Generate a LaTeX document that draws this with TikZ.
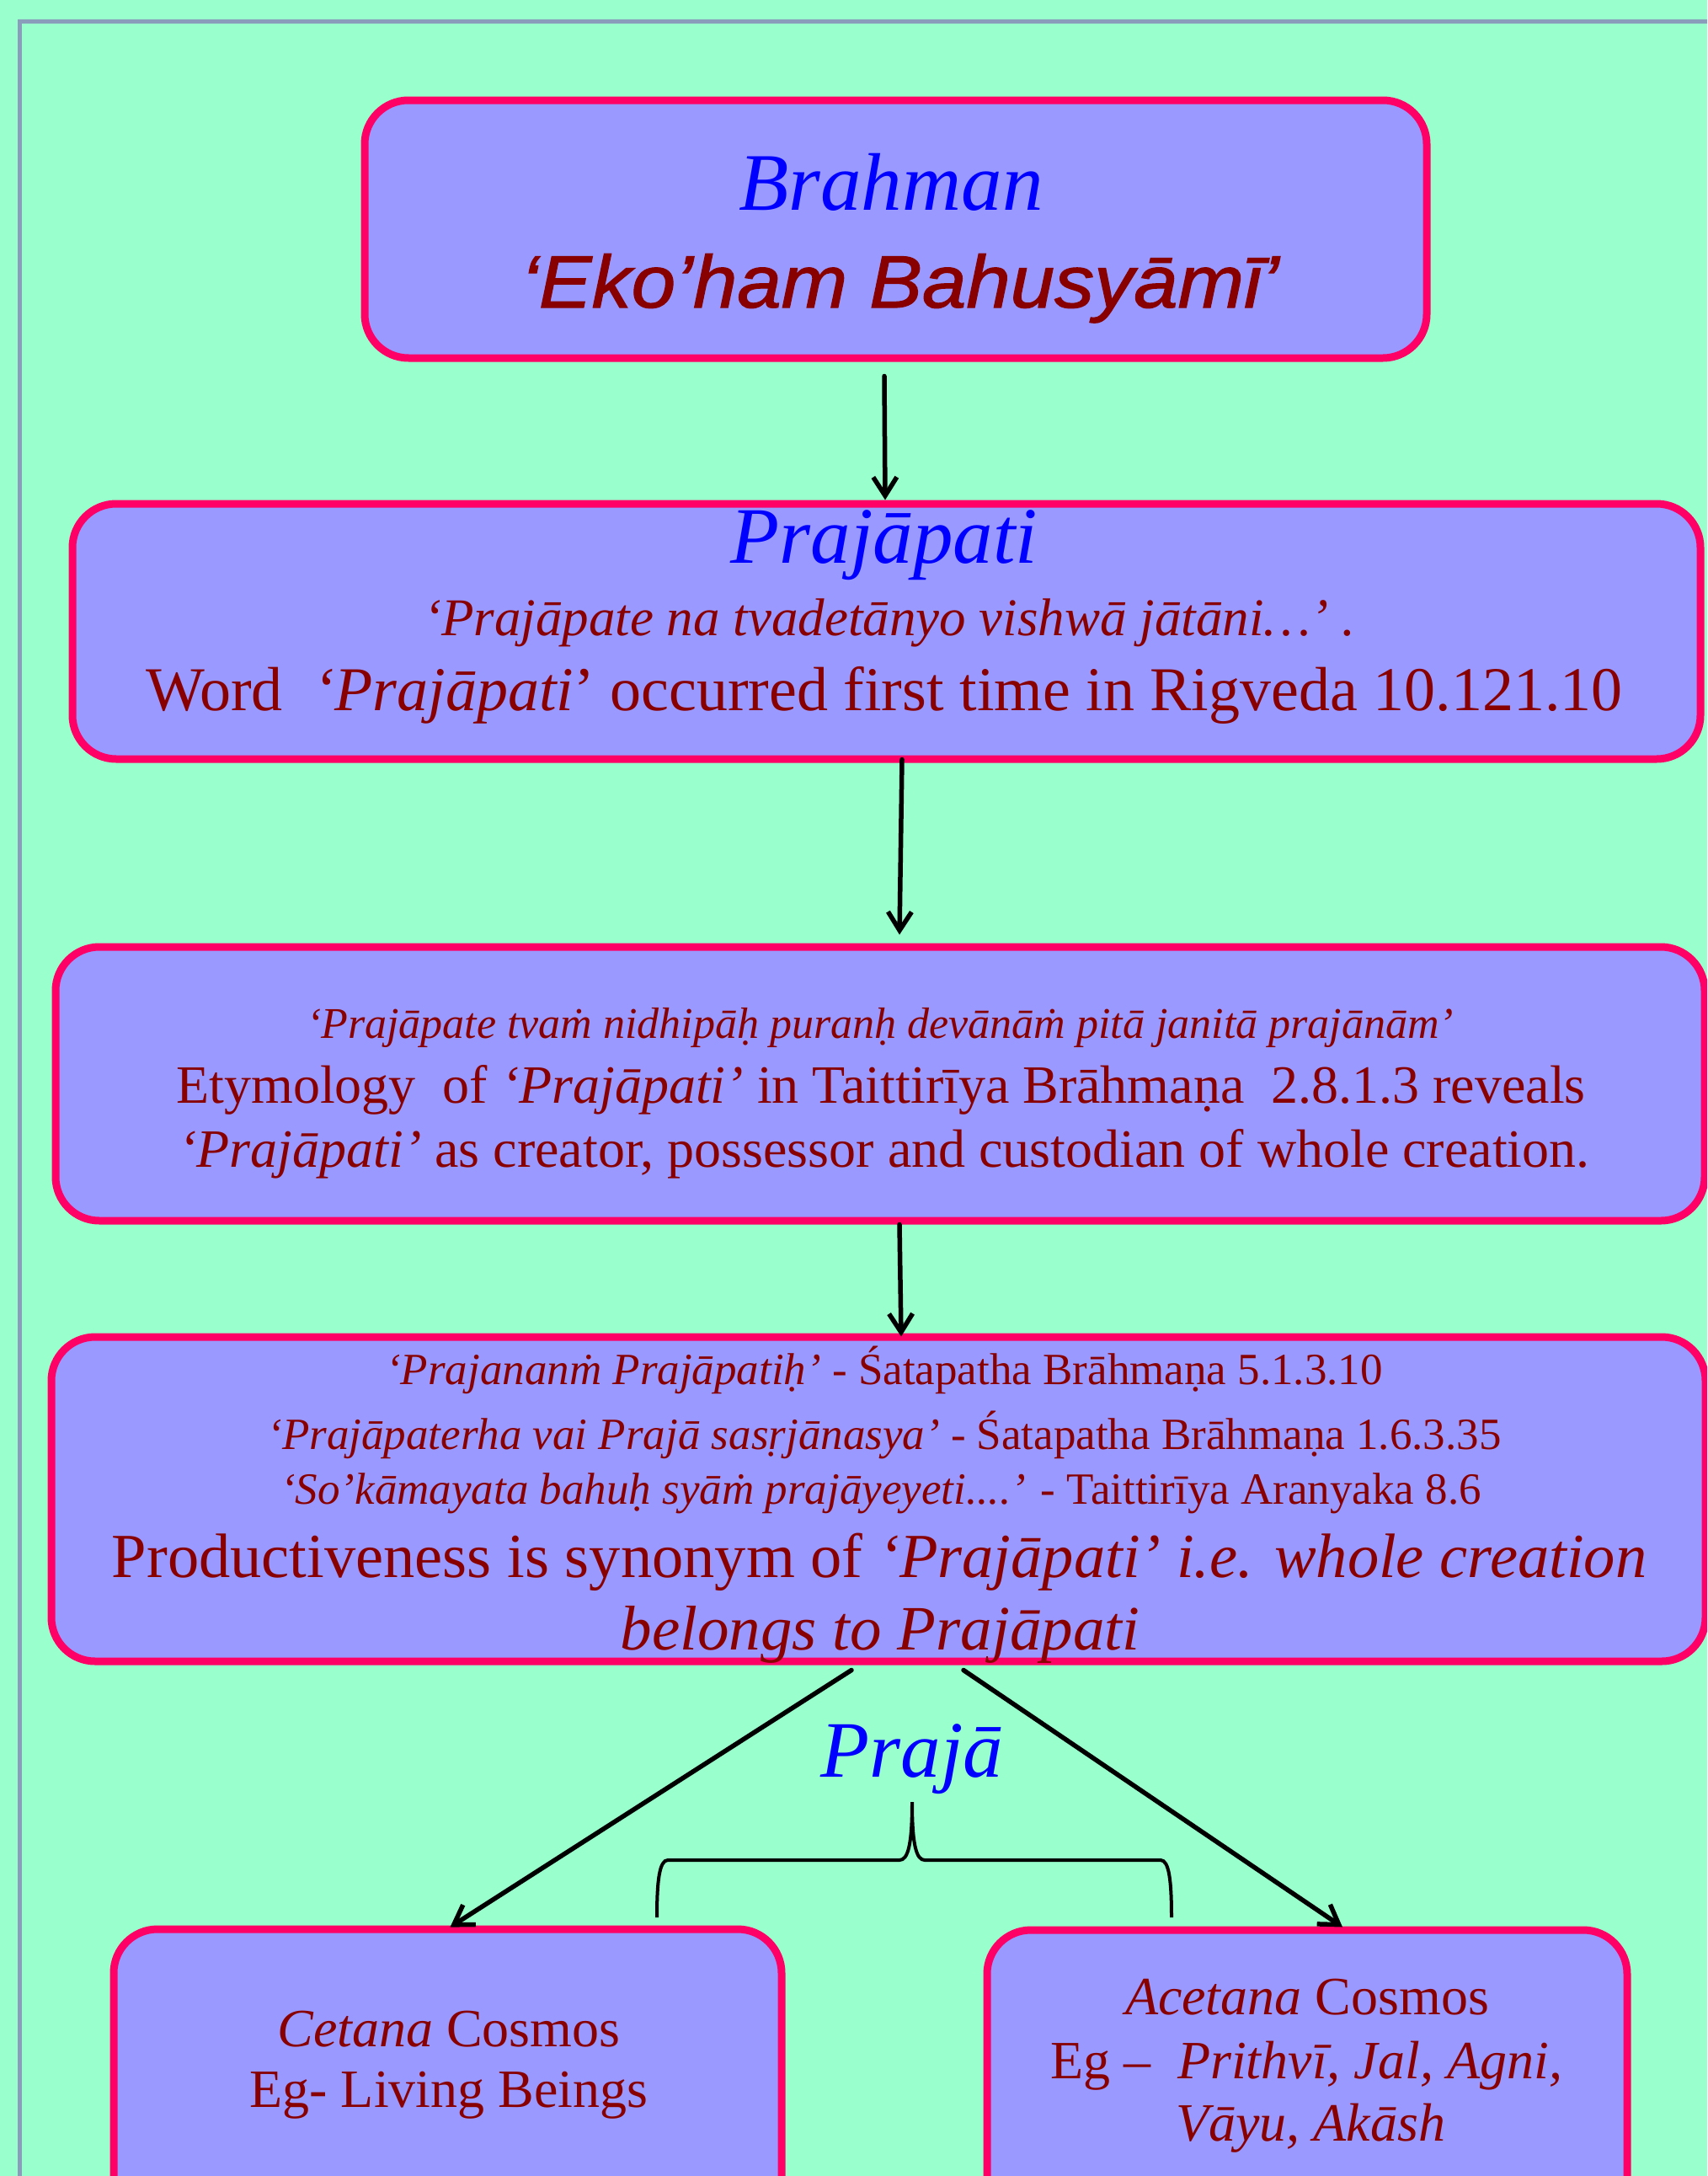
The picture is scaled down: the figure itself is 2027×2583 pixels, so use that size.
\documentclass[tikz,border=0pt]{standalone}
\usepackage{fontspec}
\setmainfont{Liberation Serif}
\newfontfamily\arialfont[ItalicFeatures={FakeBold=1.3,FakeStretch=1.07}]{Liberation Sans}
\usetikzlibrary{arrows.meta}
\definecolor{bgc}{HTML}{99FFCC}
\definecolor{boxc}{HTML}{9999FF}
\definecolor{bordc}{HTML}{FF0066}
\definecolor{framec}{HTML}{8A9EBB}
\definecolor{dred}{HTML}{880000}
\definecolor{blu}{HTML}{0000FF}
\newcommand\fsz[1]{\fontsize{#1}{#1}\selectfont}
\tikzset{
  box/.style={draw=bordc, fill=boxc, line width=9pt, rounded corners=52pt, inner sep=0pt},
  txt/.style={anchor=base, inner sep=0pt, text=dred},
  ttl/.style={anchor=base, inner sep=0pt, text=blu, font={\fsz{96}\itshape}},
  arr/.style={-{Straight Barb[length=22pt,width=28pt]}, line width=5.5pt, line cap=round, line join=round, black},
  brace/.style={line width=4pt, black}
}
\begin{document}
\begin{tikzpicture}[x=1pt,y=-1pt]
\useasboundingbox (0,0) rectangle (2027,2583);
\clip (0,0) rectangle (2027,2583);
\fill[bgc] (0,0) rectangle (2027,2583);
\draw[framec, line width=5pt] (2100,25) -- (23.5,25) -- (23.5,2700);

% boxes
\node[box, minimum width=1261pt, minimum height=306pt] (b1) at (1063.5,272) {};
\node[box, minimum width=1933pt, minimum height=303pt] (b2) at (1052.5,749.5) {};
\node[box, minimum width=1958pt, minimum height=325pt] (b3) at (1045,1286.5) {};
\node[box, minimum width=1964pt, minimum height=385pt] (b4) at (1043,1779.5) {};
\node[box, minimum width=793pt, minimum height=400pt] (b5) at (531.5,2490) {};
\node[box, minimum width=760pt, minimum height=400pt] (b6) at (1552,2491) {};

% box 1 texts
\node[ttl, font={\fsz{97}\itshape}] (t1a) at (1058,249) {Brahman};
\node[txt, font={\arialfont\fsz{88}\itshape}] (t1b) at (1069,365) {‘Eko’ham Bahusyāmī’};

% box 2 texts
\node[ttl, font={\fsz{95}\itshape}] (t2a) at (1050,668) {Prajāpati};
\node[txt, font={\fsz{63}\itshape}] (t2b) at (1056,754) {‘Prajāpate na tvadetānyo vishwā jātāni…’ .};
\node[txt, font={\fsz{74}}] (t2c) at (1050,843) {Word\ \ \textit{‘Prajāpati}’ occurred first time in Rigveda 10.121.10};

% box 3 texts
\node[txt, font={\fsz{52}\itshape}] (t3a) at (1045,1232) {‘Prajāpate tvaṁ nidhipāḥ puranḥ devānāṁ pitā janitā prajānām’};
\node[txt, font={\fsz{64}}] (t3b) at (1046,1309) {Etymology\ \ of \textit{‘Prajāpati’} in Taittirīya Brāhmaṇa\ \ 2.8.1.3 reveals};
\node[txt, font={\fsz{64}}] (t3c) at (1050,1385) {\textit{‘Prajāpati’} as creator, possessor and custodian of whole creation.};

% box 4 texts
\node[txt, font={\fsz{53}}] (t4a) at (1050,1643) {\textit{‘Prajananṁ Prajāpatiḥ’} - Śatapatha Brāhmaṇa 5.1.3.10};
\node[txt, font={\fsz{53}}] (t4b) at (1050,1720) {\textit{‘Prajāpaterha vai Prajā sasṛjānasya’} - Śatapatha Brāhmaṇa 1.6.3.35};
\node[txt, font={\fsz{53}}] (t4c) at (1046,1785) {\textit{‘So’kāmayata bahuḥ syāṁ prajāyeyeti....’} - Taittirīya Aranyaka 8.6};
\node[txt, font={\fsz{74.5}}] (t4d) at (1044,1872) {Productiveness is synonym of \textit{‘Prajāpati’ i.e. whole creation}};
\node[txt, font={\fsz{75}\itshape}] (t4e) at (1045,1958) {belongs to Prajāpati};

% Praja label
\node[ttl, font={\fsz{95}\itshape}] (praja) at (1083,2109) {Prajā};

% box 5 / 6 texts
\node[txt, font={\fsz{64}}] (t5a) at (533,2429) {\textit{Cetana} Cosmos};
\node[txt, font={\fsz{64}}] (t5b) at (533,2501) {Eg- Living Beings};
\node[txt, font={\fsz{64}}] (t6a) at (1552,2391) {\textit{Acetana} Cosmos};
\node[txt, font={\fsz{64}}] (t6b) at (1551,2467) {Eg –\ \ \textit{Prithvī, Jal, Agni,}};
\node[txt, font={\fsz{64}\itshape}] (t6c) at (1556,2541) {Vāyu, Akāsh};

% connectors
\draw[arr] ([shift={(-13.5,17)}]b1.south) -- ([shift={(-1.5,0)}]b2.north);
\draw[arr] ([shift={(18.5,-4)}]b2.south) -- ([shift={(23,-10)}]b3.north);
\draw[arr] ([shift={(23,0)}]b3.south) -- ([shift={(27,4)}]b4.north);
\draw[arr] ([shift={(-32,6)}]b4.south) -- ([shift={(3,2)}]b5.north);
\draw[arr] ([shift={(101,6)}]b4.south) -- ([shift={(42,1)}]b6.north);

% brace under Praja
\coordinate (brL) at (780,2276);
\coordinate (brT) at (1083,2139);
\coordinate (brR) at (1391,2276);
\draw[brace] (brL) .. controls (780,2232) and (783,2208) .. (793,2208)
  -- (1068,2208) .. controls (1078,2208) and (1083,2190) .. (brT)
  .. controls (1083,2190) and (1088,2208) .. (1098,2208)
  -- (1378,2208) .. controls (1388,2208) and (1391,2232) .. (brR);
\end{tikzpicture}
\end{document}
